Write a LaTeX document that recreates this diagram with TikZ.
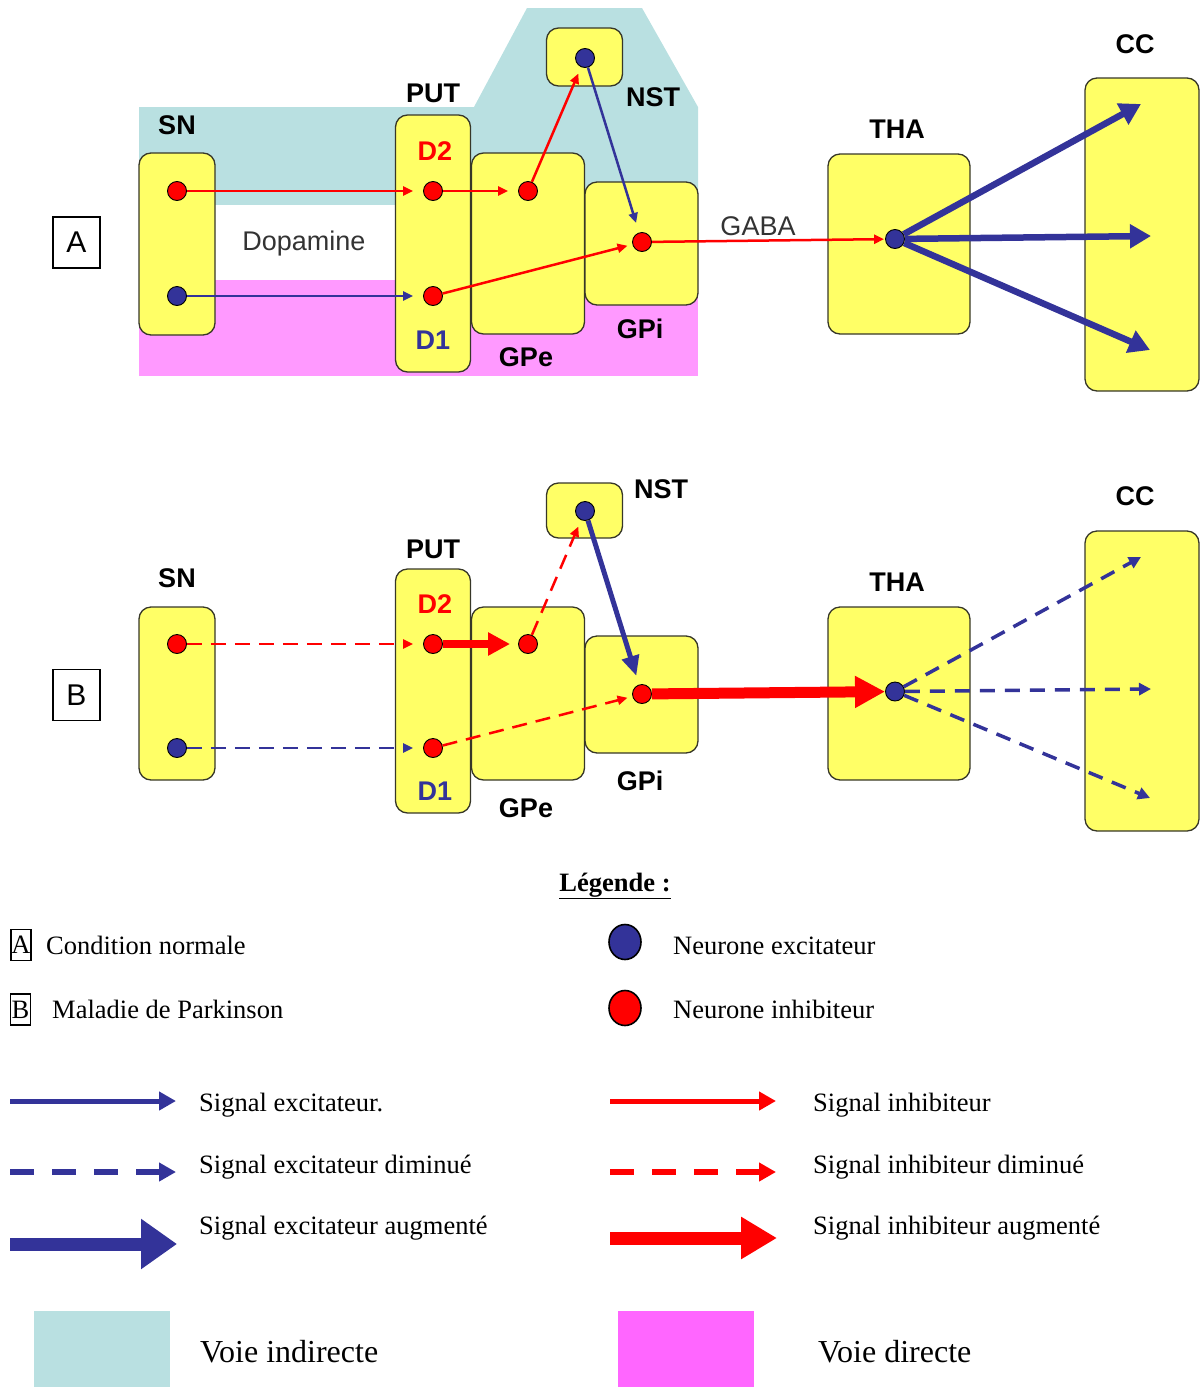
\documentclass[tikz,border=0pt]{standalone}
\usepackage{fontspec}
\setmainfont{Liberation Serif}
\newfontfamily\arial{Liberation Sans}
\usetikzlibrary{arrows.meta,shapes.geometric}
\definecolor{exc}{RGB}{51,51,153}
\definecolor{inh}{RGB}{255,0,0}
\definecolor{boxyel}{RGB}{255,255,102}
\definecolor{indir}{RGB}{185,224,225}
\definecolor{dirpink}{RGB}{255,153,255}
\definecolor{dirpinkL}{RGB}{255,102,255}
\definecolor{boxline}{RGB}{55,55,40}
\begin{document}
\begin{tikzpicture}[x=1pt,y=-1pt,
  regbox/.style={draw=boxline,line width=1.3pt,fill=boxyel,rounded corners=12pt,inner sep=0pt},
  lab/.style={font=\arial\bfseries\fontsize{27}{30}\selectfont,anchor=base,inner sep=0pt},
  plain/.style={font=\arial\fontsize{27}{30}\selectfont,text=black!80,anchor=base,inner sep=0pt},
  letterbox/.style={draw=black,line width=1.3pt,font=\arial\fontsize{30}{32}\selectfont,minimum width=47pt,minimum height=51pt,inner sep=0pt},
  dotE/.style={circle,draw=black,line width=0.9pt,fill=exc,minimum size=19pt,inner sep=0pt},
  dotI/.style={circle,draw=black,line width=0.9pt,fill=inh,minimum size=19pt,inner sep=0pt},
  sigI/.style={draw=inh,line width=2.5pt,-{Triangle[length=10pt,width=9pt]}},
  sigE/.style={draw=exc,line width=2.5pt,-{Triangle[length=10pt,width=9pt]}},
  dshI/.style={sigI,dash pattern=on 15pt off 9pt},
  dshE/.style={sigE,dash pattern=on 15pt off 9pt},
  fanE/.style={draw=exc,line width=6.5pt,-{Triangle[length=21pt,width=23pt]}},
  fanD/.style={draw=exc,line width=3.5pt,dash pattern=on 15pt off 10pt,-{Triangle[length=12pt,width=12pt]}},
  legtxt/.style={font=\fontsize{26.5}{30}\selectfont,anchor=base west,inner sep=0pt},
  legbig/.style={font=\fontsize{32}{36}\selectfont,anchor=base west,inner sep=0pt},
  lettersm/.style={draw=black,line width=1.5pt,font=\fontsize{26.5}{30}\selectfont,minimum width=20pt,minimum height=31pt,inner sep=0pt},
  legdot/.style={ellipse,draw=black,line width=1.6pt,minimum width=32pt,minimum height=35pt,inner sep=0pt},
  legE/.style={draw=exc,line width=5pt,-{Triangle[length=17pt,width=18pt]}},
  legI/.style={draw=inh,line width=5pt,-{Triangle[length=17pt,width=18pt]}},
  legDE/.style={legE,line width=6pt,dash pattern=on 24pt off 18pt},
  legDI/.style={legI,line width=6pt,dash pattern=on 24pt off 18pt},
  legBE/.style={draw=exc,line width=13pt,-{Triangle[length=36pt,width=48pt]}},
  legBI/.style={draw=inh,line width=13pt,-{Triangle[length=36pt,width=40pt]}}
]
\useasboundingbox (0,0) rectangle (1201,1387);

% ---------------- A : background pathways
\fill[indir] (139,107) -- (474,107) -- (527,8) -- (642,8) -- (698,107) -- (698,281) -- (139,281) -- cycle;
\fill[white] (139,205) rectangle (396,281);
\fill[dirpink] (139,280) rectangle (698,376);

% ---------------- A : boxes
\node[regbox,minimum width=76pt,minimum height=182pt] (snA) at (177,244) {};
\node[regbox,minimum width=75pt,minimum height=257pt] (putA) at (433,243.5) {};
\node[regbox,minimum width=113pt,minimum height=181pt] (gpeA) at (528,243.5) {};
\node[regbox,minimum width=113pt,minimum height=123pt] (gpiA) at (641.5,243.5) {};
\node[regbox,minimum width=76pt,minimum height=58pt] (nstA) at (584.5,57) {};
\node[regbox,minimum width=142pt,minimum height=180pt] (thaA) at (899,244) {};
\node[regbox,minimum width=114pt,minimum height=313pt] (ccA) at (1142,234.5) {};

% labels A
\node[lab] (lsnA) at (177,134) {SN};
\node[lab] (lputA) at (433,102) {PUT};
\node[lab,text=inh] (ld2A) at (435,160) {D2};
\node[lab,text=exc] (ld1A) at (433,349) {D1};
\node[lab] (lgpeA) at (526,366) {GPe};
\node[lab] (lgpiA) at (640,338) {GPi};
\node[lab] (lnstA) at (653,106) {NST};
\node[lab] (lthaA) at (897,138) {THA};
\node[lab] (lccA) at (1135,53) {CC};
\node[plain] (dopa) at (304,250) {Dopamine};
\node[plain] (gaba) at (758,235) {GABA};
\node[letterbox] (boxA) at (76.5,242.5) {A};

% dots A
\node[dotI] (snA1) at (177,191) {};
\node[dotE] (snA2) at (177,296) {};
\node[dotI] (putA1) at (433,191) {};
\node[dotI] (putA2) at (433,296) {};
\node[dotI] (gpeA1) at (528,191) {};
\node[dotI] (gpiA1) at (642,242) {};
\node[dotE] (nstA1) at (585,58) {};
\node[dotE] (thaA1) at (895,239) {};
\coordinate (ccAt) at (1141,104);
\coordinate (ccAm) at (1151,236);
\coordinate (ccAb) at (1150,350);

% connectors A
\draw[sigI,shorten >=10pt] (snA1) -- (putA1);
\draw[sigE,shorten >=10pt] (snA2) -- (putA2);
\draw[sigI,shorten >=10pt] (putA1) -- (gpeA1);
\draw[sigI,shorten >=7pt] (gpeA1) -- (nstA1);
\draw[sigE,shorten >=10pt] (nstA1) -- (gpiA1);
\draw[sigI,shorten >=5pt] (putA2) -- (gpiA1);
\draw[sigI,shorten >=1pt] (gpiA1) -- (thaA1);
\draw[fanE] (thaA1) -- (ccAt);
\draw[fanE] (thaA1) -- (ccAm);
\draw[fanE] (thaA1) -- (ccAb);

% ---------------- B : boxes
\node[regbox,minimum width=76pt,minimum height=173pt] (snB) at (177,693.5) {};
\node[regbox,minimum width=75pt,minimum height=244pt] (putB) at (433,691) {};
\node[regbox,minimum width=113pt,minimum height=173pt] (gpeB) at (528,693.5) {};
\node[regbox,minimum width=113pt,minimum height=117pt] (gpiB) at (641.5,694.5) {};
\node[regbox,minimum width=76pt,minimum height=55pt] (nstB) at (584.5,510.5) {};
\node[regbox,minimum width=142pt,minimum height=173pt] (thaB) at (899,693.5) {};
\node[regbox,minimum width=114pt,minimum height=300pt] (ccB) at (1142,681) {};

% labels B
\node[lab] (lsnB) at (177,587) {SN};
\node[lab] (lputB) at (433,558) {PUT};
\node[lab,text=inh] (ld2B) at (435,613) {D2};
\node[lab,text=exc] (ld1B) at (435,800) {D1};
\node[lab] (lgpeB) at (526,817) {GPe};
\node[lab] (lgpiB) at (640,790) {GPi};
\node[lab] (lnstB) at (661,498) {NST};
\node[lab] (lthaB) at (897,591) {THA};
\node[lab] (lccB) at (1135,505) {CC};
\node[letterbox] (boxB) at (76.5,695) {B};

% dots B
\node[dotI] (snB1) at (177,644) {};
\node[dotE] (snB2) at (177,748) {};
\node[dotI] (putB1) at (433,644) {};
\node[dotI] (putB2) at (433,748) {};
\node[dotI] (gpeB1) at (528,644) {};
\node[dotI] (gpiB1) at (642,694) {};
\node[dotE] (nstB1) at (585,511) {};
\node[dotE] (thaB1) at (895,691.5) {};
\coordinate (ccBt) at (1141,557);
\coordinate (ccBm) at (1151,689);
\coordinate (ccBb) at (1150,798);

% connectors B
\draw[dshI,shorten >=10pt] (snB1) -- (putB1);
\draw[dshE,shorten >=10pt] (snB2) -- (putB2);
\draw[draw=inh,line width=7.5pt,-{Triangle[length=22pt,width=22pt]},shorten >=8pt] (putB1) -- (gpeB1);
\draw[dshI,shorten >=7pt] (gpeB1) -- (nstB1);
\draw[draw=exc,line width=5pt,-{Triangle[length=20pt,width=17pt]},shorten >=9pt] (nstB1) -- (gpiB1);
\draw[dshI,shorten >=5pt] (putB2) -- (gpiB1);
\draw[draw=inh,line width=11pt,-{Triangle[length=30pt,width=30pt]}] (gpiB1) -- (thaB1);
\draw[fanD] (thaB1) -- (ccBt);
\draw[fanD] (thaB1) -- (ccBm);
\draw[fanD] (thaB1) -- (ccBb);

% ---------------- Legend
\node[font=\bfseries\fontsize{26.5}{30}\selectfont,anchor=base,inner sep=0pt] (legtitle) at (615,891) {\underline{Légende :}};

\node[lettersm] (la) at (21,945) {A};
\node[legtxt] (ta) at (46,954) {Condition normale};
\node[lettersm] (lb) at (20.5,1009.5) {B};
\node[legtxt] (tb) at (52,1018) {Maladie de Parkinson};

\node[legdot,fill=exc] (ce) at (625,942) {};
\node[legtxt] (tce) at (673,954) {Neurone excitateur};
\node[legdot,fill=inh] (ci) at (625,1008) {};
\node[legtxt] (tci) at (673,1018) {Neurone inhibiteur};

\coordinate (e1s) at (10,1101); \coordinate (e1e) at (176,1101);
\coordinate (e2s) at (10,1172); \coordinate (e2e) at (176,1172);
\coordinate (e3s) at (10,1244); \coordinate (e3e) at (177,1244);
\coordinate (i1s) at (610,1101); \coordinate (i1e) at (776,1101);
\coordinate (i2s) at (610,1172); \coordinate (i2e) at (776,1172);
\coordinate (i3s) at (610,1238); \coordinate (i3e) at (777,1238);
\draw[legE] (e1s) -- (e1e);
\draw[legDE] (e2s) -- (e2e);
\draw[legBE] (e3s) -- (e3e);
\draw[legI] (i1s) -- (i1e);
\draw[legDI] (i2s) -- (i2e);
\draw[legBI] (i3s) -- (i3e);
\node[legtxt] (te1) at (199,1111) {Signal excitateur.};
\node[legtxt] (te2) at (199,1173) {Signal excitateur diminué};
\node[legtxt] (te3) at (199,1234) {Signal excitateur augmenté};
\node[legtxt] (ti1) at (813,1111) {Signal inhibiteur};
\node[legtxt] (ti2) at (813,1173) {Signal inhibiteur diminué};
\node[legtxt] (ti3) at (813,1234) {Signal inhibiteur augmenté};

\node[fill=indir,minimum width=136pt,minimum height=76pt,inner sep=0pt] (swi) at (102,1349) {};
\node[legbig] (twi) at (200,1362) {Voie indirecte};
\node[fill=dirpinkL,minimum width=136pt,minimum height=76pt,inner sep=0pt] (swd) at (686,1349) {};
\node[legbig] (twd) at (818,1362) {Voie directe};
\end{tikzpicture}
\end{document}
